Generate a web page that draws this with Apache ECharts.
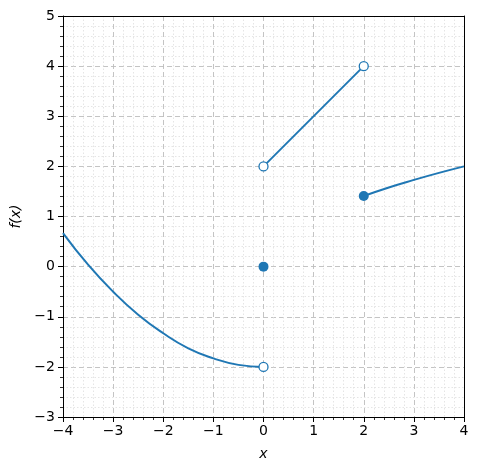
<!DOCTYPE html>
<html>
<head>
<meta charset="utf-8">
<script src="https://cdn.jsdelivr.net/npm/echarts@6/dist/echarts.min.js"></script>
<style>
  html, body { margin: 0; padding: 0; background: #fff; }
  #chart { width: 478px; height: 470px; }
</style>
</head>
<body>
<div id="chart"></div>
<script>
// piece 1: x < 0
var leftX = [-4, -3.5, -3, -2.5, -2, -1.5, -1, -0.5, 0];
var leftY = [0.67, 0.04, -0.5, -0.96, -1.33, -1.63, -1.83, -1.96, -2];
// piece 2: 0 < x < 2
var midX = [0, 2];
var midY = [2, 4];
// piece 3: x >= 2
var rightX = [2, 2.5, 3, 3.5, 4];
var rightY = [1.41, 1.58, 1.73, 1.87, 2];
// open / filled end points
var openPts = [[0, -2], [0, 2], [2, 4]];
var filledPts = [[0, 0], [2, 1.41]];

var blue = '#1f77b4';

function pairs(xs, ys) {
  return xs.map(function (x, i) { return [x, ys[i]]; });
}
function minus(v) {
  return String(v).replace('-', '\u2212');
}

var chart = echarts.init(document.getElementById('chart'));

var axisCommon = {
  type: 'value',
  interval: 1,
  axisLine: { show: true, onZero: false, lineStyle: { color: '#000', width: 1 } },
  axisTick: { show: true, inside: false, length: 5, lineStyle: { color: '#000', width: 1 } },
  minorTick: { show: true, splitNumber: 5, length: 3, lineStyle: { color: '#000', width: 0.8 } },
  axisLabel: { color: '#000', fontSize: 14, fontFamily: 'DejaVu Sans', formatter: minus },
  splitLine: { show: true, lineStyle: { color: '#bdbdbd', type: [5, 3], width: 0.9 } },
  minorSplitLine: { show: true, lineStyle: { color: '#dedede', type: [1.5, 2], width: 0.8 } },
  nameTextStyle: { color: '#000', fontSize: 14, fontFamily: 'DejaVu Sans', fontStyle: 'italic' }
};

// top / right frame lines only
var frameAxis = {
  type: 'value',
  axisLine: { show: true, onZero: false, lineStyle: { color: '#000', width: 1 } },
  axisTick: { show: false },
  axisLabel: { show: false },
  splitLine: { show: false }
};

chart.setOption({
  backgroundColor: '#fff',
  animation: false,
  grid: {
    left: 63, right: 14, top: 16, bottom: 53
  },
  xAxis: [
    Object.assign({}, axisCommon, {
      min: -4, max: 4,
      name: 'x', nameLocation: 'middle', nameGap: 30,
      axisLabel: Object.assign({}, axisCommon.axisLabel, { margin: 7 })
    }),
    Object.assign({}, frameAxis, { position: 'top', min: -4, max: 4 })
  ],
  yAxis: [
    Object.assign({}, axisCommon, {
      min: -3, max: 5,
      name: 'f(x)', nameLocation: 'middle', nameGap: 40, nameRotate: 90,
      axisLabel: Object.assign({}, axisCommon.axisLabel, { margin: 8 })
    }),
    Object.assign({}, frameAxis, { position: 'right', min: -3, max: 5 })
  ],
  series: [
    {
      type: 'line', data: pairs(leftX, leftY), smooth: 0.5,
      showSymbol: false, lineStyle: { color: blue, width: 2 }, z: 3
    },
    {
      type: 'line', data: pairs(midX, midY),
      showSymbol: false, lineStyle: { color: blue, width: 2 }, z: 3
    },
    {
      type: 'line', data: pairs(rightX, rightY), smooth: 0.5,
      showSymbol: false, lineStyle: { color: blue, width: 2 }, z: 3
    },
    {
      type: 'scatter', data: filledPts, symbol: 'circle', symbolSize: 10,
      itemStyle: { color: blue, opacity: 1 }, z: 5
    },
    {
      type: 'scatter', data: openPts, symbol: 'circle', symbolSize: 9,
      itemStyle: { color: '#fff', borderColor: blue, borderWidth: 1.3, opacity: 1 }, z: 6
    }
  ]
});
</script>
</body>
</html>
